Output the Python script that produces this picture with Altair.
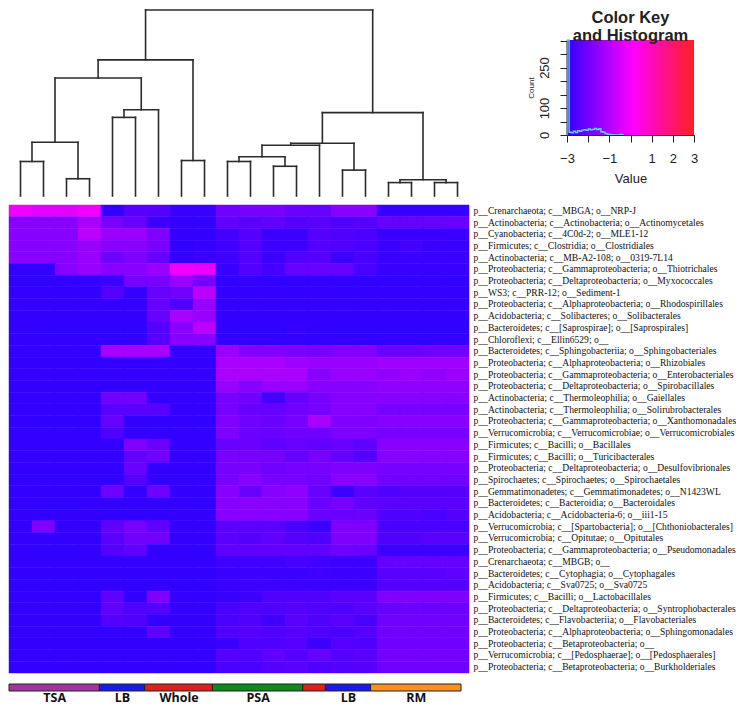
import altair as alt
import pandas as pd

# ---------------- data ----------------
ROW_LABELS = [
    "p__Crenarchaeota; c__MBGA; o__NRP-J",
    "p__Actinobacteria; c__Actinobacteria; o__Actinomycetales",
    "p__Cyanobacteria; c__4C0d-2; o__MLE1-12",
    "p__Firmicutes; c__Clostridia; o__Clostridiales",
    "p__Actinobacteria; c__MB-A2-108; o__0319-7L14",
    "p__Proteobacteria; c__Gammaproteobacteria; o__Thiotrichales",
    "p__Proteobacteria; c__Deltaproteobacteria; o__Myxococcales",
    "p__WS3; c__PRR-12; o__Sediment-1",
    "p__Proteobacteria; c__Alphaproteobacteria; o__Rhodospirillales",
    "p__Acidobacteria; c__Solibacteres; o__Solibacterales",
    "p__Bacteroidetes; c__[Saprospirae]; o__[Saprospirales]",
    "p__Chloroflexi; c__Ellin6529; o__",
    "p__Bacteroidetes; c__Sphingobacteriia; o__Sphingobacteriales",
    "p__Proteobacteria; c__Alphaproteobacteria; o__Rhizobiales",
    "p__Proteobacteria; c__Gammaproteobacteria; o__Enterobacteriales",
    "p__Proteobacteria; c__Deltaproteobacteria; o__Spirobacillales",
    "p__Actinobacteria; c__Thermoleophilia; o__Gaiellales",
    "p__Actinobacteria; c__Thermoleophilia; o__Solirubrobacterales",
    "p__Proteobacteria; c__Gammaproteobacteria; o__Xanthomonadales",
    "p__Verrucomicrobia; c__Verrucomicrobiae; o__Verrucomicrobiales",
    "p__Firmicutes; c__Bacilli; o__Bacillales",
    "p__Firmicutes; c__Bacilli; o__Turicibacterales",
    "p__Proteobacteria; c__Deltaproteobacteria; o__Desulfovibrionales",
    "p__Spirochaetes; c__Spirochaetes; o__Spirochaetales",
    "p__Gemmatimonadetes; c__Gemmatimonadetes; o__N1423WL",
    "p__Bacteroidetes; c__Bacteroidia; o__Bacteroidales",
    "p__Acidobacteria; c__Acidobacteria-6; o__iii1-15",
    "p__Verrucomicrobia; c__[Spartobacteria]; o__[Chthoniobacterales]",
    "p__Verrucomicrobia; c__Opitutae; o__Opitutales",
    "p__Proteobacteria; c__Gammaproteobacteria; o__Pseudomonadales",
    "p__Crenarchaeota; c__MBGB; o__",
    "p__Bacteroidetes; c__Cytophagia; o__Cytophagales",
    "p__Acidobacteria; c__Sva0725; o__Sva0725",
    "p__Firmicutes; c__Bacilli; o__Lactobacillales",
    "p__Proteobacteria; c__Deltaproteobacteria; o__Syntrophobacterales",
    "p__Bacteroidetes; c__Flavobacteriia; o__Flavobacteriales",
    "p__Proteobacteria; c__Alphaproteobacteria; o__Sphingomonadales",
    "p__Proteobacteria; c__Betaproteobacteria; o__",
    "p__Verrucomicrobia; c__[Pedosphaerae]; o__[Pedosphaerales]",
    "p__Proteobacteria; c__Betaproteobacteria; o__Burkholderiales",
]

HEAT_VALUES = [
    [-0.2, -0.4, -0.4, -0.2, -3.0, -2.45, -2.5, -2.9, -2.9, -2.1, -2.0, -2.0, -2.2, -2.25, -1.75, -1.75, -2.93, -2.93, -2.93, -2.93],
    [-1.75, -1.75, -1.75, -1.25, -2.0, -2.25, -2.87, -3.0, -3.0, -2.34, -2.43, -2.34, -2.5, -2.43, -2.57, -2.5, -2.25, -2.25, -2.25, -2.19],
    [-1.75, -1.75, -1.75, -1.0, -1.5, -1.5, -1.87, -3.0, -3.0, -2.75, -2.5, -2.87, -2.87, -2.5, -2.57, -2.66, -2.9, -2.9, -2.9, -2.9],
    [-1.75, -1.75, -1.75, -1.5, -1.75, -1.75, -2.0, -3.0, -2.95, -2.81, -2.5, -2.87, -2.87, -2.5, -2.57, -2.66, -2.9, -2.75, -2.9, -2.9],
    [-1.75, -1.75, -1.75, -1.5, -2.1, -1.87, -2.25, -3.0, -2.9, -2.81, -2.5, -2.87, -2.57, -2.5, -2.87, -2.66, -2.9, -2.9, -2.9, -2.9],
    [-3.0, -3.0, -1.75, -1.5, -1.75, -1.75, -1.5, -0.2, -0.3, -2.93, -2.5, -2.75, -2.25, -2.25, -2.25, -2.66, -2.93, -2.93, -2.93, -2.93],
    [-3.0, -3.0, -3.0, -3.0, -2.87, -2.0, -2.0, -1.5, -2.0, -3.0, -2.95, -3.0, -3.0, -3.0, -3.0, -3.0, -3.0, -3.0, -3.0, -3.0],
    [-3.0, -3.0, -3.0, -3.0, -2.5, -3.0, -2.25, -2.1, -1.0, -3.0, -3.0, -3.0, -3.0, -3.0, -3.0, -3.0, -3.0, -3.0, -3.0, -3.0],
    [-3.0, -3.0, -3.0, -3.0, -3.0, -3.0, -2.25, -2.57, -1.5, -3.0, -3.0, -3.0, -3.0, -3.0, -3.0, -3.0, -3.0, -3.0, -3.0, -3.0],
    [-3.0, -3.0, -3.0, -3.0, -3.0, -3.0, -2.25, -1.25, -1.5, -3.0, -3.0, -3.0, -3.0, -3.0, -3.0, -3.0, -3.0, -3.0, -3.0, -3.0],
    [-3.0, -3.0, -3.0, -3.0, -3.0, -3.0, -2.5, -1.75, -1.0, -3.0, -3.0, -3.0, -2.95, -3.0, -3.0, -3.0, -3.0, -3.0, -3.0, -3.0],
    [-3.0, -3.0, -3.0, -3.0, -3.0, -3.0, -2.5, -1.75, -1.75, -3.0, -3.0, -3.0, -3.0, -3.0, -3.0, -3.0, -3.0, -3.0, -3.0, -3.0],
    [-3.0, -3.0, -3.0, -3.0, -1.25, -1.25, -1.25, -3.0, -3.0, -1.5, -1.87, -1.87, -1.96, -2.0, -1.87, -1.87, -2.19, -2.19, -2.1, -2.1],
    [-3.0, -3.0, -3.0, -3.0, -3.0, -3.0, -3.0, -3.0, -3.0, -1.25, -1.25, -1.25, -1.4, -1.5, -1.5, -1.5, -1.4, -1.4, -1.4, -1.4],
    [-3.0, -3.0, -3.0, -3.0, -3.0, -3.0, -3.0, -3.0, -3.0, -1.25, -1.25, -1.25, -1.25, -1.75, -1.5, -1.5, -1.63, -1.5, -1.63, -1.5],
    [-3.0, -3.0, -3.0, -3.0, -3.0, -3.0, -3.0, -3.0, -3.0, -1.5, -1.75, -1.5, -1.5, -1.75, -1.75, -1.75, -1.63, -1.63, -1.63, -1.63],
    [-3.0, -3.0, -3.0, -3.0, -2.1, -2.1, -3.0, -3.0, -3.0, -2.0, -2.1, -2.75, -2.25, -2.0, -1.75, -1.75, -1.75, -1.75, -1.75, -1.75],
    [-3.0, -3.0, -3.0, -3.0, -2.43, -2.43, -2.43, -3.0, -3.0, -2.0, -2.25, -2.25, -2.1, -2.0, -1.75, -1.75, -2.0, -2.0, -2.0, -2.0],
    [-3.0, -3.0, -3.0, -3.0, -2.25, -3.0, -3.0, -3.0, -3.0, -1.87, -2.1, -2.19, -2.0, -1.25, -1.87, -1.87, -1.75, -1.75, -1.75, -1.75],
    [-3.0, -3.0, -3.0, -3.0, -2.57, -3.0, -3.0, -3.0, -3.0, -1.87, -2.19, -2.19, -2.1, -2.1, -1.87, -1.87, -2.0, -2.0, -2.0, -2.0],
    [-3.0, -3.0, -3.0, -3.0, -3.0, -1.87, -2.19, -3.0, -3.0, -2.25, -2.19, -2.34, -2.25, -2.34, -2.25, -2.34, -1.75, -1.75, -1.75, -1.75],
    [-3.0, -3.0, -3.0, -3.0, -3.0, -2.34, -2.1, -3.0, -3.0, -2.0, -2.0, -2.0, -2.25, -2.0, -2.25, -2.5, -1.75, -1.75, -1.75, -1.75],
    [-3.0, -3.0, -3.0, -3.0, -3.0, -2.19, -3.0, -3.0, -3.0, -2.0, -2.0, -2.1, -2.0, -2.0, -1.87, -1.87, -2.0, -2.0, -2.0, -2.0],
    [-3.0, -3.0, -3.0, -3.0, -3.0, -2.5, -3.0, -3.0, -3.0, -2.0, -1.75, -2.0, -2.0, -2.1, -1.75, -1.75, -2.1, -2.1, -2.1, -2.1],
    [-3.0, -3.0, -3.0, -3.0, -2.1, -3.0, -2.1, -3.0, -3.0, -1.75, -2.25, -1.75, -1.63, -2.25, -2.87, -2.43, -2.57, -2.5, -2.5, -2.5],
    [-3.0, -3.0, -3.0, -3.0, -3.0, -3.0, -3.0, -3.0, -3.0, -1.75, -1.75, -1.75, -1.75, -2.19, -2.0, -2.34, -2.43, -2.43, -2.43, -2.43],
    [-3.0, -3.0, -3.0, -3.0, -3.0, -3.0, -3.0, -3.0, -3.0, -1.75, -1.75, -1.75, -1.75, -2.19, -2.19, -2.19, -2.57, -2.57, -2.66, -2.5],
    [-3.0, -1.87, -3.0, -3.0, -2.34, -2.0, -2.34, -3.0, -3.0, -2.43, -2.43, -2.43, -2.66, -2.87, -1.87, -1.87, -2.66, -2.66, -2.66, -2.66],
    [-3.0, -3.0, -3.0, -3.0, -2.43, -2.1, -2.1, -3.0, -3.0, -2.43, -2.5, -2.34, -2.5, -2.57, -1.87, -1.87, -2.57, -2.57, -2.43, -2.43],
    [-3.0, -3.0, -3.0, -3.0, -2.5, -2.34, -3.0, -3.0, -3.0, -2.34, -2.34, -2.34, -2.34, -2.34, -2.1, -2.19, -2.87, -2.87, -2.87, -2.87],
    [-3.0, -3.0, -3.0, -3.0, -3.0, -3.0, -3.0, -3.0, -3.0, -2.81, -2.81, -2.81, -2.66, -2.81, -2.87, -2.87, -2.25, -2.25, -2.25, -2.25],
    [-3.0, -3.0, -3.0, -3.0, -3.0, -3.0, -3.0, -3.0, -3.0, -2.9, -2.87, -2.87, -2.87, -2.81, -2.87, -2.87, -2.43, -2.43, -2.43, -2.34],
    [-3.0, -3.0, -3.0, -3.0, -3.0, -3.0, -3.0, -3.0, -3.0, -2.9, -2.87, -2.87, -2.87, -2.87, -2.87, -2.87, -2.5, -2.5, -2.5, -2.5],
    [-3.0, -3.0, -3.0, -3.0, -2.34, -3.0, -1.87, -3.0, -3.0, -2.93, -2.87, -2.57, -2.57, -2.57, -2.43, -2.43, -1.87, -1.87, -1.87, -1.87],
    [-3.0, -3.0, -3.0, -3.0, -2.34, -2.57, -2.5, -3.0, -3.0, -2.66, -2.57, -2.57, -2.5, -2.57, -2.57, -2.43, -2.25, -2.19, -2.19, -2.19],
    [-3.0, -3.0, -3.0, -3.0, -2.5, -2.57, -3.0, -3.0, -3.0, -2.66, -2.57, -2.81, -2.43, -2.57, -2.43, -2.66, -2.1, -2.1, -2.1, -2.1],
    [-3.0, -3.0, -3.0, -3.0, -3.0, -3.0, -2.34, -3.0, -3.0, -2.57, -2.5, -2.57, -2.5, -2.57, -2.66, -2.5, -2.1, -2.1, -2.1, -2.1],
    [-3.0, -3.0, -3.0, -3.0, -3.0, -3.0, -3.0, -3.0, -3.0, -2.9, -2.57, -2.57, -2.5, -2.87, -2.5, -2.57, -2.1, -2.1, -2.1, -2.1],
    [-3.0, -3.0, -3.0, -3.0, -3.0, -3.0, -3.0, -3.0, -3.0, -2.5, -2.57, -2.34, -2.5, -2.25, -2.5, -2.43, -2.05, -2.05, -2.05, -2.05],
    [-3.0, -3.0, -3.0, -3.0, -3.0, -3.0, -3.0, -3.0, -3.0, -2.66, -2.66, -2.5, -2.43, -2.57, -2.5, -2.5, -2.1, -2.1, -2.1, -2.1],
]

# column dendrogram, hclust style: negative = leaf (-(i+1)), positive = earlier merge (1-based)
MERGE_A = [-1, -3, 1, -5, 4, 3, -8, 6, -10, -12, 9, 11, -15, 12, -17, -19, 15, 14, 8]
MERGE_B = [-2, -4, 2, -6, -7, 5, -9, 7, -11, -13, 10, -14, -16, 13, -18, -20, 16, 17, 18]
MERGE_H = [36, 18, 56, 82, 90, 123, 37, 142, 36, 31, 41, 53, 27, 55, 14, 14, 17, 87, 194]

# colour key histogram (first bin runs off the top of the key)
HIST_X = [-3.0, -3.0, -2.9, -2.8, -2.7, -2.6, -2.5, -2.4, -2.3, -2.2, -2.1, -2.0, -1.9, -1.8, -1.7,
          -1.6, -1.5, -1.4, -1.3, -1.2, -1.1, -1.0, -0.9, -0.8, -0.7, -0.6, -0.5, -0.4, -0.3]
HIST_COUNT = [0, 352, 10, 8, 14, 9, 16, 14, 18, 20, 17, 22, 19, 21, 24,
              20, 23, 12, 10, 5, 3, 2, 1, 0, 0, 0, 2, 0, 0]
KEY_TICKS_X = [-3, -2, -1, 0, 1, 2, 3]
KEY_LABELS_X = [-3, -1, 1, 2, 3]
KEY_TICKS_Y = [0, 50, 100, 150, 200, 250, 300, 350]
KEY_LABELS_Y = [0, 100, 250]
KEY_COUNT_MAX = 352
KEY_TITLE = ["Color Key", "and Histogram"]

# column side colours
GROUP_NAMES = ["TSA", "LB", "Whole", "PSA", "", "LB", "RM"]
GROUP_START = [0, 4, 6, 9, 13, 14, 16]
GROUP_END = [4, 6, 9, 13, 14, 16, 20]
GROUP_COLORS = ["#a3359f", "#1a1aee", "#e11e1e", "#0e8a1c", "#e11e1e", "#1a1aee", "#ff8f1e"]

N_COLS = 20

# ---------------- tables ----------------
heat_rows = []
for r, lab in enumerate(ROW_LABELS):
    for c in range(N_COLS):
        heat_rows.append({"taxon": lab, "col": c, "value": HEAT_VALUES[r][c]})
heat_df = pd.DataFrame(heat_rows)

node_x, node_h = {}, {}
segs = []
def pos(ref):
    if ref < 0:
        return (-ref - 1) + 0.5, 0.0
    return node_x[ref], node_h[ref]
for k, (a, b, h) in enumerate(zip(MERGE_A, MERGE_B, MERGE_H), start=1):
    xa, ha = pos(a)
    xb, hb = pos(b)
    segs.append({"x": xa, "x2": xa, "y": ha, "y2": h})
    segs.append({"x": xb, "x2": xb, "y": hb, "y2": h})
    segs.append({"x": xa, "x2": xb, "y": h, "y2": h})
    node_x[k] = (xa + xb) / 2
    node_h[k] = h
dendro_df = pd.DataFrame(segs)

hist_df = pd.DataFrame({"x": HIST_X, "count": HIST_COUNT, "i": list(range(len(HIST_X)))})
key_df = pd.DataFrame({"lo": [KEY_TICKS_X[0]], "hi": [KEY_TICKS_X[-1]], "c0": [0], "c1": [KEY_COUNT_MAX],
                       "t0": [KEY_TICKS_Y[-1]]})
group_df = pd.DataFrame({"name": GROUP_NAMES, "start": GROUP_START, "end": GROUP_END, "color": GROUP_COLORS})

# ---------------- charts ----------------
HEAT_W, HEAT_H = 460, 468
DENDRO_H = 186
KEY_W, KEY_H, KEY_GRAD_H = 127, 125, 95   # plot area spans the title zone; gradient fills the lower 95px

color_scale = alt.Scale(domain=[-3, 0, 3], range=["#3300ff", "#ff00ff", "#ff2020"], interpolate="rgb")

dendro = alt.Chart(dendro_df).mark_rule(color="#2b2b2b", strokeWidth=1.6, strokeCap="square").encode(
    x=alt.X("x:Q", scale=alt.Scale(domain=[0, N_COLS], nice=False, zero=False), axis=None),
    x2="x2:Q",
    y=alt.Y("y:Q", scale=alt.Scale(domain=[0, MERGE_H[-1]], nice=False), axis=None),
    y2="y2:Q",
).properties(width=HEAT_W, height=DENDRO_H)

key_x = alt.Scale(domain=[-3, 3], nice=False, zero=False)
key_y = alt.Scale(domain=[0, KEY_COUNT_MAX * KEY_H / KEY_GRAD_H], nice=False)
lab_x = " || ".join(f"datum.value == {v}" for v in KEY_LABELS_X)
lab_y = " || ".join(f"datum.value == {v}" for v in KEY_LABELS_Y)

KEY_X_AXIS = alt.Axis(
    values=KEY_TICKS_X, labelExpr=f"({lab_x}) ? datum.label : ''", title="Value",
    grid=False, tickSize=7, tickColor="#222", domainColor="#222", labelColor="#222",
    labelFont="Liberation Sans", labelFontSize=13, labelPadding=10, labelOverlap=False,
    labelFlush=False,
    titleFont="Liberation Sans", titleFontSize=13, titleFontWeight="normal", titleColor="#222",
    titlePadding=7)
KEY_Y_AXIS = alt.Axis(
    values=KEY_TICKS_Y, labelExpr=f"({lab_y}) ? datum.label : ''", title="Count",
    grid=False, domain=False, tickSize=7, tickColor="#222", labelColor="#222",
    labelFont="Liberation Sans", labelFontSize=13, labelAngle=270, labelAlign="center",
    labelBaseline="bottom", labelPadding=9, labelOverlap=False, labelFlush=False,
    titleFont="Liberation Sans", titleFontSize=8, titleFontWeight="normal", titleColor="#222",
    titlePadding=3, titleY=KEY_H - KEY_GRAD_H / 2, titleAnchor="middle")

grad = alt.Chart(key_df).mark_rect(
    color=alt.Gradient(
        gradient="linear",
        stops=[alt.GradientStop(color="#3300ff", offset=0),
               alt.GradientStop(color="#ff00ff", offset=0.52),
               alt.GradientStop(color="#ff2020", offset=1)],
        x1=0, x2=1, y1=0, y2=0,
    )
).encode(
    x=alt.X("lo:Q", scale=key_x, axis=KEY_X_AXIS),
    x2="hi:Q",
    y=alt.Y("c0:Q", scale=key_y, axis=KEY_Y_AXIS),
    y2="c1:Q",
)
axis_line = alt.Chart(key_df).mark_rule(color="#222", strokeWidth=1).encode(
    x=alt.X("lo:Q", scale=key_x, axis=KEY_X_AXIS),
    y=alt.Y("c0:Q", scale=key_y, axis=KEY_Y_AXIS),
    y2="t0:Q",
)
hist = alt.Chart(hist_df).mark_line(interpolate="step-after", color="#55d6ee", strokeWidth=1.4, clip=True).encode(
    x=alt.X("x:Q", scale=key_x, axis=KEY_X_AXIS),
    y=alt.Y("count:Q", scale=key_y, axis=KEY_Y_AXIS),
    order=alt.Order("i:Q"),
)
title_layers = []
for i, line in enumerate(KEY_TITLE):
    title_layers.append(
        alt.Chart(pd.DataFrame({"line": [line]})).mark_text(
            font="Liberation Sans", fontSize=16.5, fontWeight="bold", color="#222",
            baseline="top", align="center"
        ).encode(text="line:N", x=alt.value(KEY_W / 2), y=alt.value(17.5 * i))
    )
key = alt.layer(grad, axis_line, hist, *title_layers).properties(width=KEY_W, height=KEY_H)

heat = alt.Chart(heat_df).mark_rect(strokeWidth=0.5).encode(
    x=alt.X("col:O", scale=alt.Scale(paddingInner=0, paddingOuter=0), axis=None),
    y=alt.Y("taxon:N", sort=ROW_LABELS, scale=alt.Scale(paddingInner=0, paddingOuter=0),
            axis=alt.Axis(orient="right", title=None, ticks=False, domain=False,
                          labelFont="Liberation Serif", labelFontSize=9.6, labelPadding=4,
                          labelColor="#111", labelLimit=0, labelOverlap=False)),
    color=alt.Color("value:Q", scale=color_scale, legend=None),
    stroke=alt.Stroke("value:Q", scale=color_scale, legend=None),
).properties(width=HEAT_W, height=HEAT_H)

centers = [(s + e) / 2 for n, s, e in zip(GROUP_NAMES, GROUP_START, GROUP_END) if n]
names = [n for n in GROUP_NAMES if n]
expr = "''"
for c, n in zip(reversed(centers), reversed(names)):
    expr = f"datum.value == {c} ? '{n}' : ({expr})"

bar = alt.Chart(group_df).mark_rect(stroke="#222", strokeWidth=1).encode(
    x=alt.X("start:Q", scale=alt.Scale(domain=[0, N_COLS], nice=False, zero=False),
            axis=alt.Axis(values=centers, labelExpr=expr, ticks=False, domain=False, grid=False,
                          title=None, labelFont="Open Sans", labelFontSize=12.5, labelFontWeight="bold",
                          labelColor="#111", labelPadding=0, labelOverlap=False, labelFlush=False)),
    x2="end:Q",
    color=alt.Color("color:N", scale=None),
).properties(width=452, height=7)

top = alt.hconcat(dendro, key, spacing=57)
upper = alt.vconcat(top, heat, spacing=6)
chart = alt.vconcat(upper, bar, spacing=9).properties(
    padding={"left": 0, "top": 0, "right": 0, "bottom": 0}
).configure_view(stroke=None)

chart.save("out.html", embed_options={"renderer": "svg", "actions": False})
